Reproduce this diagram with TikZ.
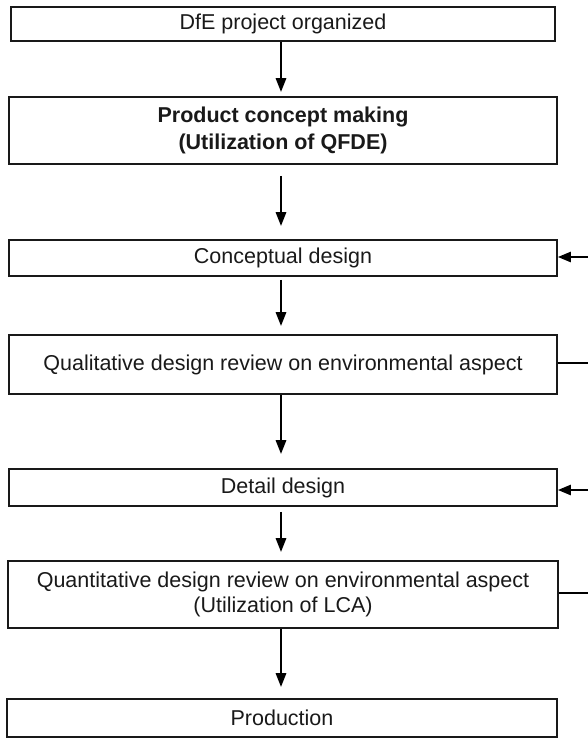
\documentclass[tikz,border=0pt]{standalone}
\usepackage{fontspec}
\setmainfont{Liberation Sans}
\usetikzlibrary{arrows.meta,calc}
\begin{document}
\begin{tikzpicture}[x=1pt,y=-1pt,
  box/.style={draw=black!90,line width=1.6pt,inner sep=0pt,align=center,font=\fontsize{21.5}{25}\selectfont,text=black!90},
  varr/.style={line width=2.8pt,-{Triangle[length=14pt,width=10pt]}},
  harr/.style={line width=2.4pt,-{Triangle[length=13pt,width=10pt]}},
  hline/.style={line width=2.4pt}]
\useasboundingbox (0,0) rectangle (588,738);
\node[box,minimum width=544pt,minimum height=34pt] (b1) at (283,24) {DfE project organized};
\node[box,minimum width=548pt,minimum height=67pt,font=\fontsize{21.5}{27}\selectfont\bfseries] (b2) at (283,130.5) {Product concept making\\(Utilization of QFDE)};
\node[box,minimum width=548pt,minimum height=36pt] (b3) at (283,258) {Conceptual design};
\node[box,minimum width=548pt,minimum height=59pt] (b4) at (283,364.5) {Qualitative design review on environmental aspect};
\node[box,minimum width=548pt,minimum height=37pt] (b5) at (283,487.5) {Detail design};
\node[box,minimum width=550pt,minimum height=67pt] (b6) at (283,594.5) {Quantitative design review on environmental aspect\\(Utilization of LCA)};
\node[box,minimum width=550pt,minimum height=38pt] (b7) at (282,718) {Production};
\coordinate (ax) at (281,0);
\draw[varr] (b1.south -| ax) -- ([yshift=4pt]b2.north -| ax);
\draw[varr,shorten <=11pt,shorten >=13pt] (b2.south -| ax) -- (b3.north -| ax);
\draw[varr,shorten <=3pt,shorten >=8pt] (b3.south -| ax) -- (b4.north -| ax);
\draw[varr,shorten >=14pt] (b4.south -| ax) -- (b5.north -| ax);
\draw[varr,shorten <=5pt,shorten >=8pt] (b5.south -| ax) -- (b6.north -| ax);
\draw[varr,shorten >=11pt] (b6.south -| ax) -- (b7.north -| ax);
\coordinate (r3) at (588,257);
\coordinate (r4) at (588,363);
\coordinate (r5) at (588,490);
\coordinate (r6) at (588,593);
\draw[harr] (r3) -- (b3.east |- r3);
\draw[hline] (b4.east |- r4) -- (r4);
\draw[harr] (r5) -- (b5.east |- r5);
\draw[hline] (b6.east |- r6) -- (r6);
\end{tikzpicture}
\end{document}
